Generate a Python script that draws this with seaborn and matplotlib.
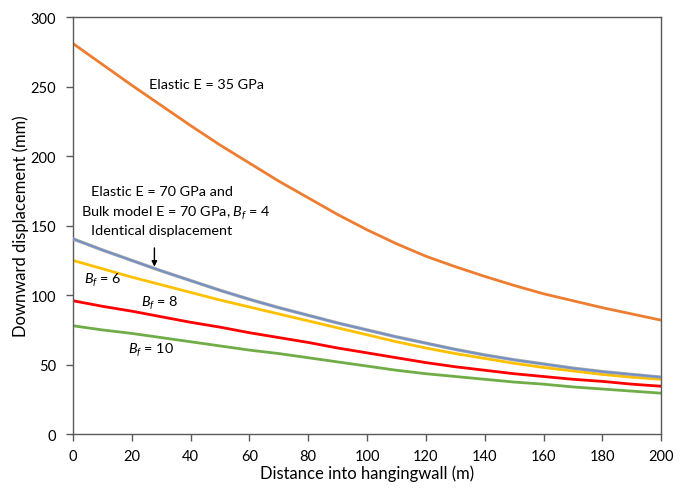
import matplotlib
matplotlib.use("Agg")
import matplotlib.pyplot as plt
import seaborn as sns

distance = [0, 10, 20, 30, 40, 50, 60, 70, 80, 90, 100,
            110, 120, 130, 140, 150, 160, 170, 180, 190, 200]
elastic_35 = [281, 266, 251, 236.5, 222, 208, 195, 182, 170, 158, 147,
              137, 128, 120.5, 113.5, 107, 101, 96, 91, 86.5, 82]
elastic_70_bf4 = [140.5, 132.5, 125, 117.5, 110.5, 103.5, 97, 91, 85.5, 80, 75,
                  70, 65.5, 61, 57, 53.5, 50.5, 47.5, 45, 43, 41]
bf6 = [125, 119, 113, 107.5, 102, 96.5, 91.5, 86.5, 81.5, 76.5, 71.5,
       66.5, 62, 58, 54.5, 51, 48, 45.5, 43, 41, 39.5]
bf8 = [96, 92, 88.5, 84.5, 80.5, 77, 73, 69.5, 66, 62, 58.5,
       55, 51.5, 48.5, 46, 43.5, 41.5, 39.5, 38, 36, 34.5]
bf10 = [78, 75, 72.5, 69.5, 66.5, 63.5, 60.5, 58, 55, 52, 49,
        46, 43.5, 41.5, 39.5, 37.5, 36, 34, 32.5, 31, 29.5]

sns.set_theme(style="white")
plt.rcParams['font.family'] = ['Lato', 'DejaVu Sans']
plt.rcParams['mathtext.fontset'] = 'custom'
plt.rcParams['mathtext.it'] = 'Lato:italic'
plt.rcParams['mathtext.rm'] = 'Lato'

fig = plt.figure(figsize=(6.88, 4.89), dpi=100)
ax = fig.add_axes([0.106, 0.110, 0.855, 0.853])

def draw(y, color, lw=2.0, z=2):
    sns.lineplot(x=distance, y=y, ax=ax, color=color, linewidth=lw, zorder=z)

draw(elastic_35, "#ED7D31")
draw(bf10, "#70AD47")
draw(bf8, "#FF0000")
draw(bf6, "#FFC000")
draw(elastic_70_bf4, "#A5A5A5", lw=2.4, z=3)
draw(elastic_70_bf4, "#6E8FCB", lw=1.2, z=4)

ax.set_xlim(0, 200)
ax.set_ylim(0, 300)
ax.set_xticks(range(0, 201, 20))
ax.set_yticks(range(0, 301, 50))
ax.tick_params(axis='both', which='both', direction='out', length=5, width=1,
               color='#595959', labelsize=10.5, labelcolor='#000000',
               bottom=True, left=True)
ax.tick_params(axis='x', pad=6)
ax.tick_params(axis='y', pad=7)
for s in ax.spines.values():
    s.set_color('#595959')
    s.set_linewidth(1.0)

ax.set_xlabel("Distance into hangingwall (m)", fontsize=12, color='black', labelpad=1)
ax.set_ylabel("Downward displacement (mm)", fontsize=12, color='black', labelpad=1)

tk = dict(fontsize=10.4, color='black')
ax.text(45.5, 252, "Elastic E = 35 GPa", ha='center', va='center', **tk)
ax.text(30.3, 174.6, "Elastic E = 70 GPa and", ha='center', va='center', **tk)
ax.text(35, 159.8, "Bulk model E = 70 GPa, $B_f$ = 4", ha='center', va='center', **tk)
ax.text(30.2, 146.6, "Identical displacement", ha='center', va='center', **tk)
ax.annotate("", xy=(27.7, 120.5), xytext=(27.7, 134),
            arrowprops=dict(arrowstyle='-|>', color='black', lw=1, mutation_scale=8,
                            shrinkA=0, shrinkB=0))
ax.text(10, 111.5, "$B_f$ = 6", ha='center', va='center', **tk)
ax.text(29.6, 94.7, "$B_f$ = 8", ha='center', va='center', **tk)
ax.text(26.4, 61, "$B_f$ = 10", ha='center', va='center', **tk)

fig.savefig("out.png", dpi=100)
